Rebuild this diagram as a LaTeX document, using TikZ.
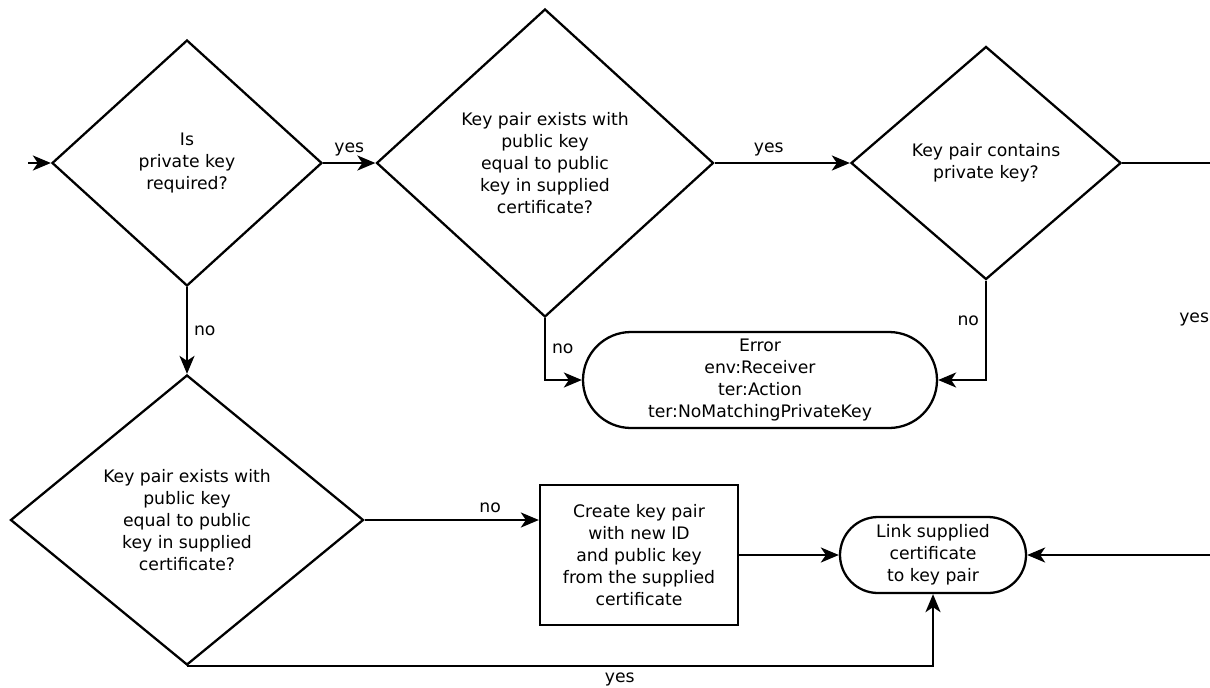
\documentclass[tikz,border=0pt]{standalone}
\usepackage{fontspec}
\setmainfont{DejaVu Sans}
\usetikzlibrary{shapes.geometric,shapes.misc,arrows.meta}

\begin{document}
\begin{tikzpicture}[node distance=20mm, line width=1.3pt, every node/.style={font=\fontsize{9.8}{12.5}\selectfont}, flow/.style={-{Stealth[length=3.6mm,width=3mm,inset=1mm]}}, decision/.style={diamond, draw, aspect=1, inner sep=0pt, align=center}, block/.style={rectangle, draw, minimum width=39.6mm, minimum height=28mm, align=center}, terminal/.style={rounded rectangle, draw, inner sep=0pt, align=center}]
  {
  \clip (0,0) rectangle (242mm,-137.4mm);
  \node[decision, minimum width=54mm, minimum height=49.2mm] (keyreq) at (37.4mm,-32.6mm) {Is\\private key\\required?};
  \node[coordinate, left of=keyreq, node distance=31.8mm] (input) {};
  \node[decision, right of=keyreq, node distance=71.6mm, minimum width=67.4mm, minimum height=61.6mm] (pairexists) {Key pair exists with\\public key\\equal to public\\key in supplied\\certificate?};
  \node[decision, right of=pairexists, node distance=88.2mm, minimum width=54mm, minimum height=46.6mm] (hasprivate) {Key pair contains\\private key?};
  \node[coordinate, right of=hasprivate, node distance=46mm] (turn) {};
  \node[terminal, below of=pairexists, node distance=43.4mm, xshift=43mm, minimum width=70.8mm, minimum height=19.2mm] (error) {Error\\env:Receiver\\ter:Action\\ter:NoMatchingPrivateKey};
  \node[decision, below of=keyreq, node distance=71.4mm, minimum width=70.6mm, minimum height=58mm] (pairexists2) {Key pair exists with\\public key\\equal to public\\key in supplied\\certificate?};
  \node[block, right of=pairexists2, node distance=90.4mm, yshift=-7mm] (create) {Create key pair\\with new ID\\and public key\\from the supplied\\certificate};
  \node[terminal, right of=create, node distance=58.8mm, minimum width=37.2mm, minimum height=15.2mm] (link) {Link supplied\\certificate\\to key pair};

  \draw[flow] (input) -- (keyreq);
  \draw[flow] (keyreq) -- node[above] {yes} (pairexists);
  \draw[flow] (pairexists) -- node[above, pos=0.4] {yes} (hasprivate);
  \draw (hasprivate) -- (turn);
  \draw[flow] (turn) |- node[pos=0.2, left] {yes} (link);
  \draw[flow] (pairexists) |- node[pos=0.25, right] {no} (error);
  \draw[flow] (hasprivate) |- node[pos=0.2, left] {no} (error);
  \draw[flow] (keyreq) -- node[right] {no} (pairexists2);
  \draw[flow] (pairexists2) -- node[above, pos=0.72] {no} (pairexists2 -| create.west);
  \draw[flow] (create) -- (link);
  \draw[flow] (pairexists2.south) -| node[pos=0.29, below] {yes} (link);
}
\end{tikzpicture}
\end{document}
